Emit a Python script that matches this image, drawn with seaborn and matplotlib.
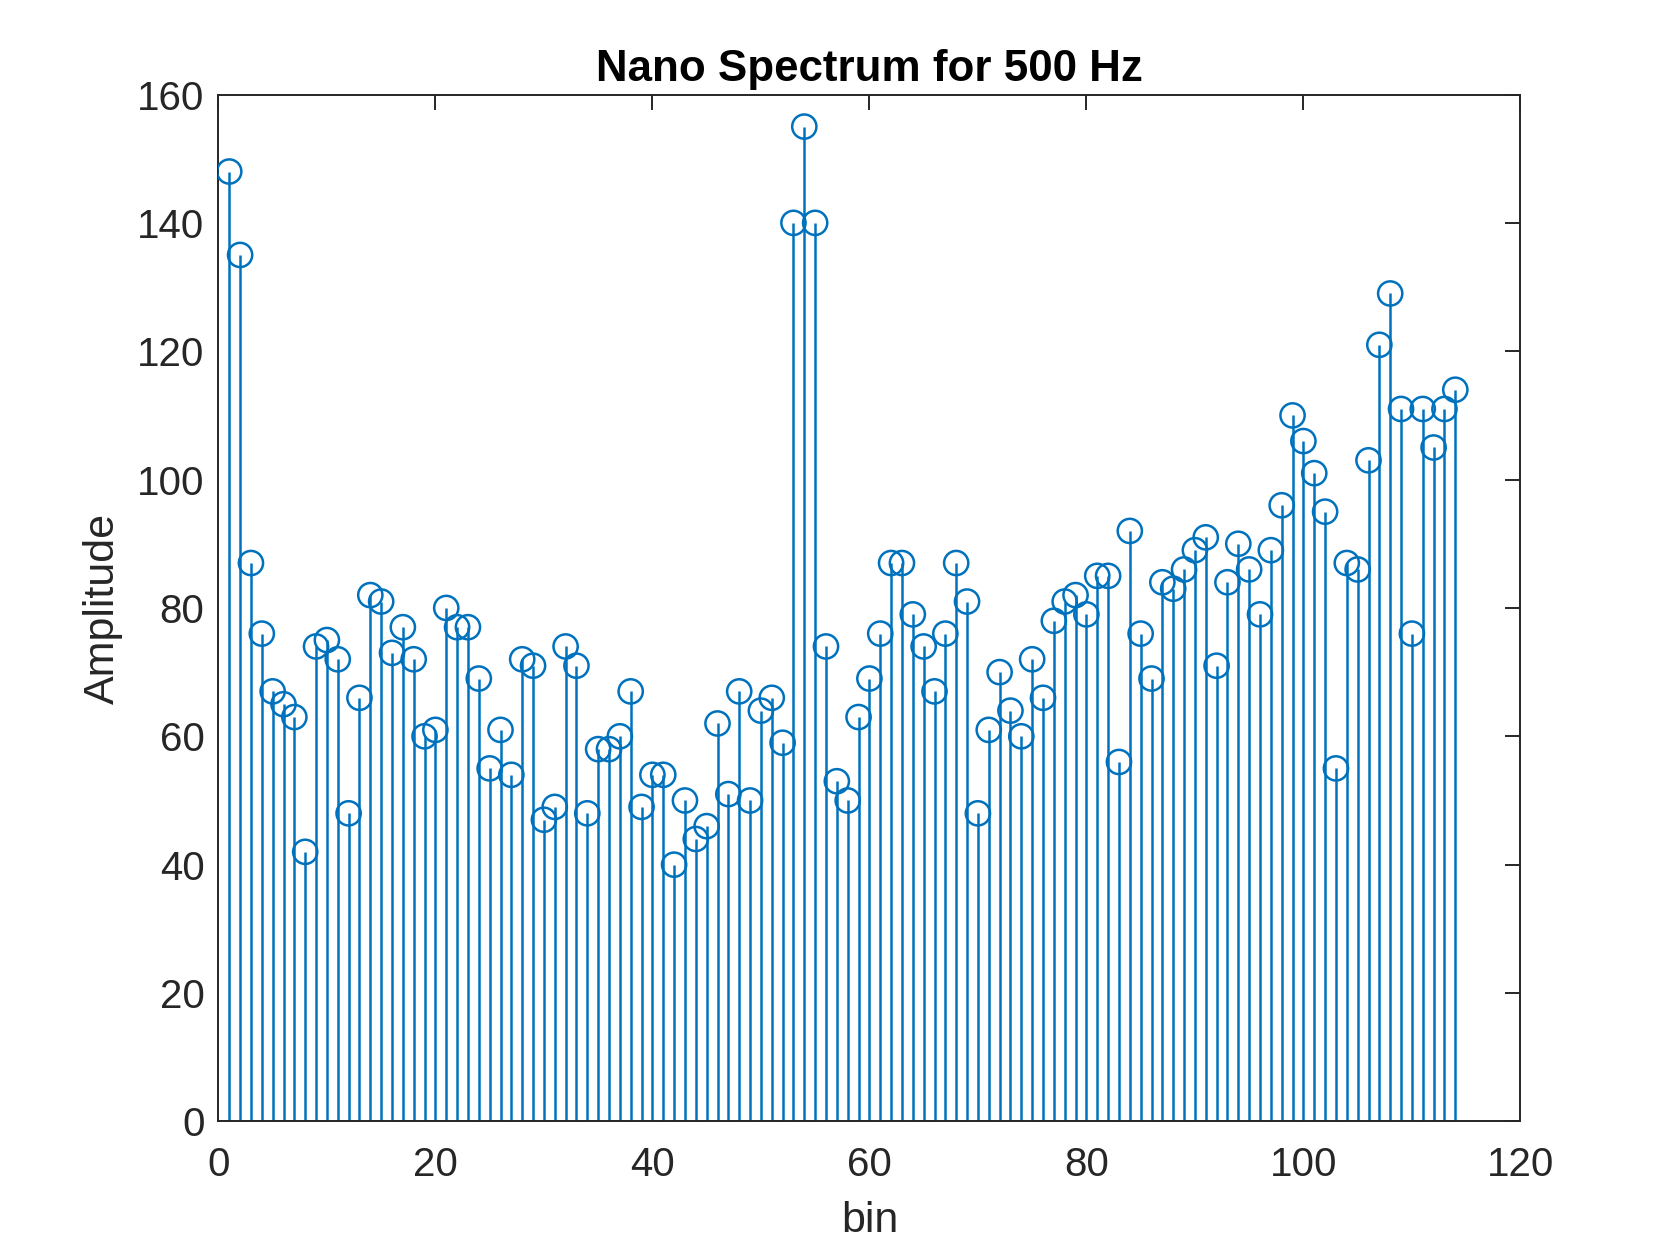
import numpy as np
import pandas as pd
import matplotlib
matplotlib.use("Agg")
import matplotlib.pyplot as plt
import seaborn as sns

# amplitude per bin
amplitude = [148, 135, 87, 76, 67, 65, 63, 42, 74, 75,
             72, 48, 66, 82, 81, 73, 77, 72, 60, 61,
             80, 77, 77, 69, 55, 61, 54, 72, 71, 47,
             49, 74, 71, 48, 58, 58, 60, 67, 49, 54,
             54, 40, 50, 44, 46, 62, 51, 67, 50, 64,
             66, 59, 140, 155, 140, 74, 53, 50, 63, 69,
             76, 87, 87, 79, 74, 67, 76, 87, 81, 48,
             61, 70, 64, 60, 72, 66, 78, 81, 82, 79,
             85, 85, 56, 92, 76, 69, 84, 83, 86, 89,
             91, 71, 84, 90, 86, 79, 89, 96, 110, 106,
             101, 95, 55, 87, 86, 103, 121, 129, 111, 76,
             111, 105, 111, 114]
bins = list(range(1, len(amplitude) + 1))
xticks = [0, 20, 40, 60, 80, 100, 120]
yticks = [0, 20, 40, 60, 80, 100, 120, 140, 160]

df = pd.DataFrame({"bin": bins, "Amplitude": amplitude})

sns.set_style("white")
plt.rcParams['font.family'] = ['Liberation Sans', 'DejaVu Sans']
blue = "#0072BD"
dark = "#262626"

fig = plt.figure(figsize=(8.4, 6.3), dpi=200)
ax = fig.add_axes([0.13, 0.11, 0.775, 0.815])

ax.vlines(df["bin"], 0, df["Amplitude"], color=blue, linewidth=0.9, zorder=2)
sns.scatterplot(data=df, x="bin", y="Amplitude", ax=ax, marker="o", s=76,
                facecolor="none", edgecolor=blue, linewidth=0.9, zorder=3)

ax.set_xlim(0, 120)
ax.set_ylim(0, 160)
ax.set_xticks(xticks)
ax.set_yticks(yticks)
ax.tick_params(direction="in", length=5.4, width=0.7, colors=dark,
               labelsize=14.5, top=True, right=True)
ax.tick_params(axis="x", pad=9)
ax.tick_params(axis="y", pad=5)
for sp in ax.spines.values():
    sp.set_color(dark)
    sp.set_linewidth(0.7)
    sp.set_visible(True)

ax.set_xlabel("bin", fontsize=15.5, color=dark, labelpad=6)
ax.set_ylabel("Amplitude", fontsize=15.5, color=dark, labelpad=5)
ax.set_title("Nano Spectrum for 500 Hz", fontsize=15.8, fontweight="bold",
             color="black", pad=5)

fig.savefig("out.png", dpi=200)
